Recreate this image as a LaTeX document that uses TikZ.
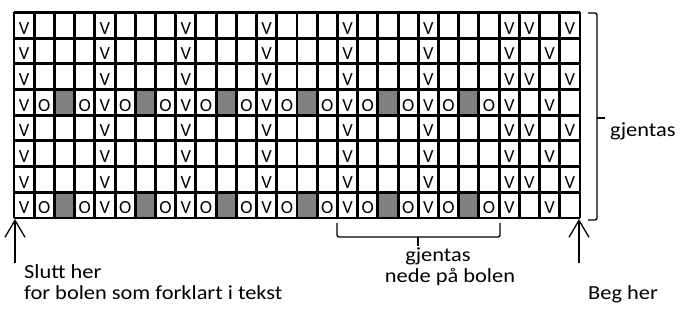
\documentclass[tikz,border=0pt]{standalone}
\usepackage{fontspec}
\setmainfont{Carlito}
\newfontfamily\lblfont{Carlito}[FakeStretch=1.12]
\usetikzlibrary{arrows.meta}
\begin{document}
\begin{tikzpicture}[x=1pt,y=-1pt,
  gridline/.style={line width=2.9pt,black,line cap=square},
  cellfill/.style={fill=black!50!white},
  cellchar/.style={font=\fontsize{18.5}{20}\selectfont,inner sep=0pt,anchor=base},
  lbl/.style={font=\lblfont\fontsize{20}{22}\selectfont,inner sep=0pt},
  thin/.style={line width=1.3pt,black},
  arr/.style={line width=1.3pt,black,-{Straight Barb[length=17pt,width=20pt,line width=1.3pt]}}
]
\useasboundingbox (0,0) rectangle (694,320);
\def\cw{20.2143}
\def\rh{25.6875}
\def\gx{14}
\def\gy{12.5}
% gray cells (rows 4 and 8)
\foreach \r in {4,8}{
  \foreach \c in {3,7,11,15,19,23}{
    \fill[cellfill] ({\gx+(\c-1)*\cw},{\gy+(\r-1)*\rh}) rectangle ({\gx+\c*\cw},{\gy+\r*\rh});
  }
}
% grid lines
\foreach \i in {0,...,28}{
  \draw[gridline] ({\gx+\i*\cw},\gy) -- ({\gx+\i*\cw},{\gy+8*\rh});
}
\foreach \j in {0,...,8}{
  \draw[gridline] (\gx,{\gy+\j*\rh}) -- ({\gx+28*\cw},{\gy+\j*\rh});
}
% letters
\foreach \r in {1,3,5,7}{
  \foreach \c in {1,5,9,13,17,21,25,26,28}{
    \node[cellchar] (v-\r-\c) at ({\gx+(\c-0.5)*\cw},{\gy+\r*\rh-4}) {V};
  }
}
\foreach \r in {2,6}{
  \foreach \c in {1,5,9,13,17,21,25,27}{
    \node[cellchar] (v-\r-\c) at ({\gx+(\c-0.5)*\cw},{\gy+\r*\rh-4}) {V};
  }
}
\foreach \r in {4,8}{
  \foreach \c in {1,5,9,13,17,21,25,27}{
    \node[cellchar] (v-\r-\c) at ({\gx+(\c-0.5)*\cw},{\gy+\r*\rh-4}) {V};
  }
  \foreach \c in {2,4,6,8,10,12,14,16,18,20,22,24}{
    \node[cellchar] (o-\r-\c) at ({\gx+(\c-0.5)*\cw},{\gy+\r*\rh-4}) {O};
  }
}
% right brace
\draw[thin,rounded corners=2pt] (588,13) -- (597,13) -- (597,220) -- (588,220);
\draw[thin] (597,118) -- (605,118);
\node[lbl,anchor=base west] (gjR) at (610,137) {gjentas};
% bottom brace
\draw[thin,rounded corners=2pt] (337,223) -- (337,237) -- (500,237) -- (500,223);
\draw[thin] (418,237) -- (418,246);
\node[lbl,anchor=base] (gjB) at (438,262) {gjentas};
\node[lbl,anchor=base] (nede) at (450,283) {nede på bolen};
% arrows
\coordinate (la0) at (15,263);
\coordinate (la1) at (15,219);
\draw[arr] (la0) -- (la1);
\coordinate (ra0) at (579,263);
\coordinate (ra1) at (579,219);
\draw[arr] (ra0) -- (ra1);
\node[lbl,anchor=base west] (slutt) at (24,279) {Slutt her};
\node[lbl,anchor=base west] (forb) at (24,300) {for bolen som forklart i tekst};
\node[lbl,anchor=base west] (beg) at (588,300) {Beg her};
\end{tikzpicture}
\end{document}
